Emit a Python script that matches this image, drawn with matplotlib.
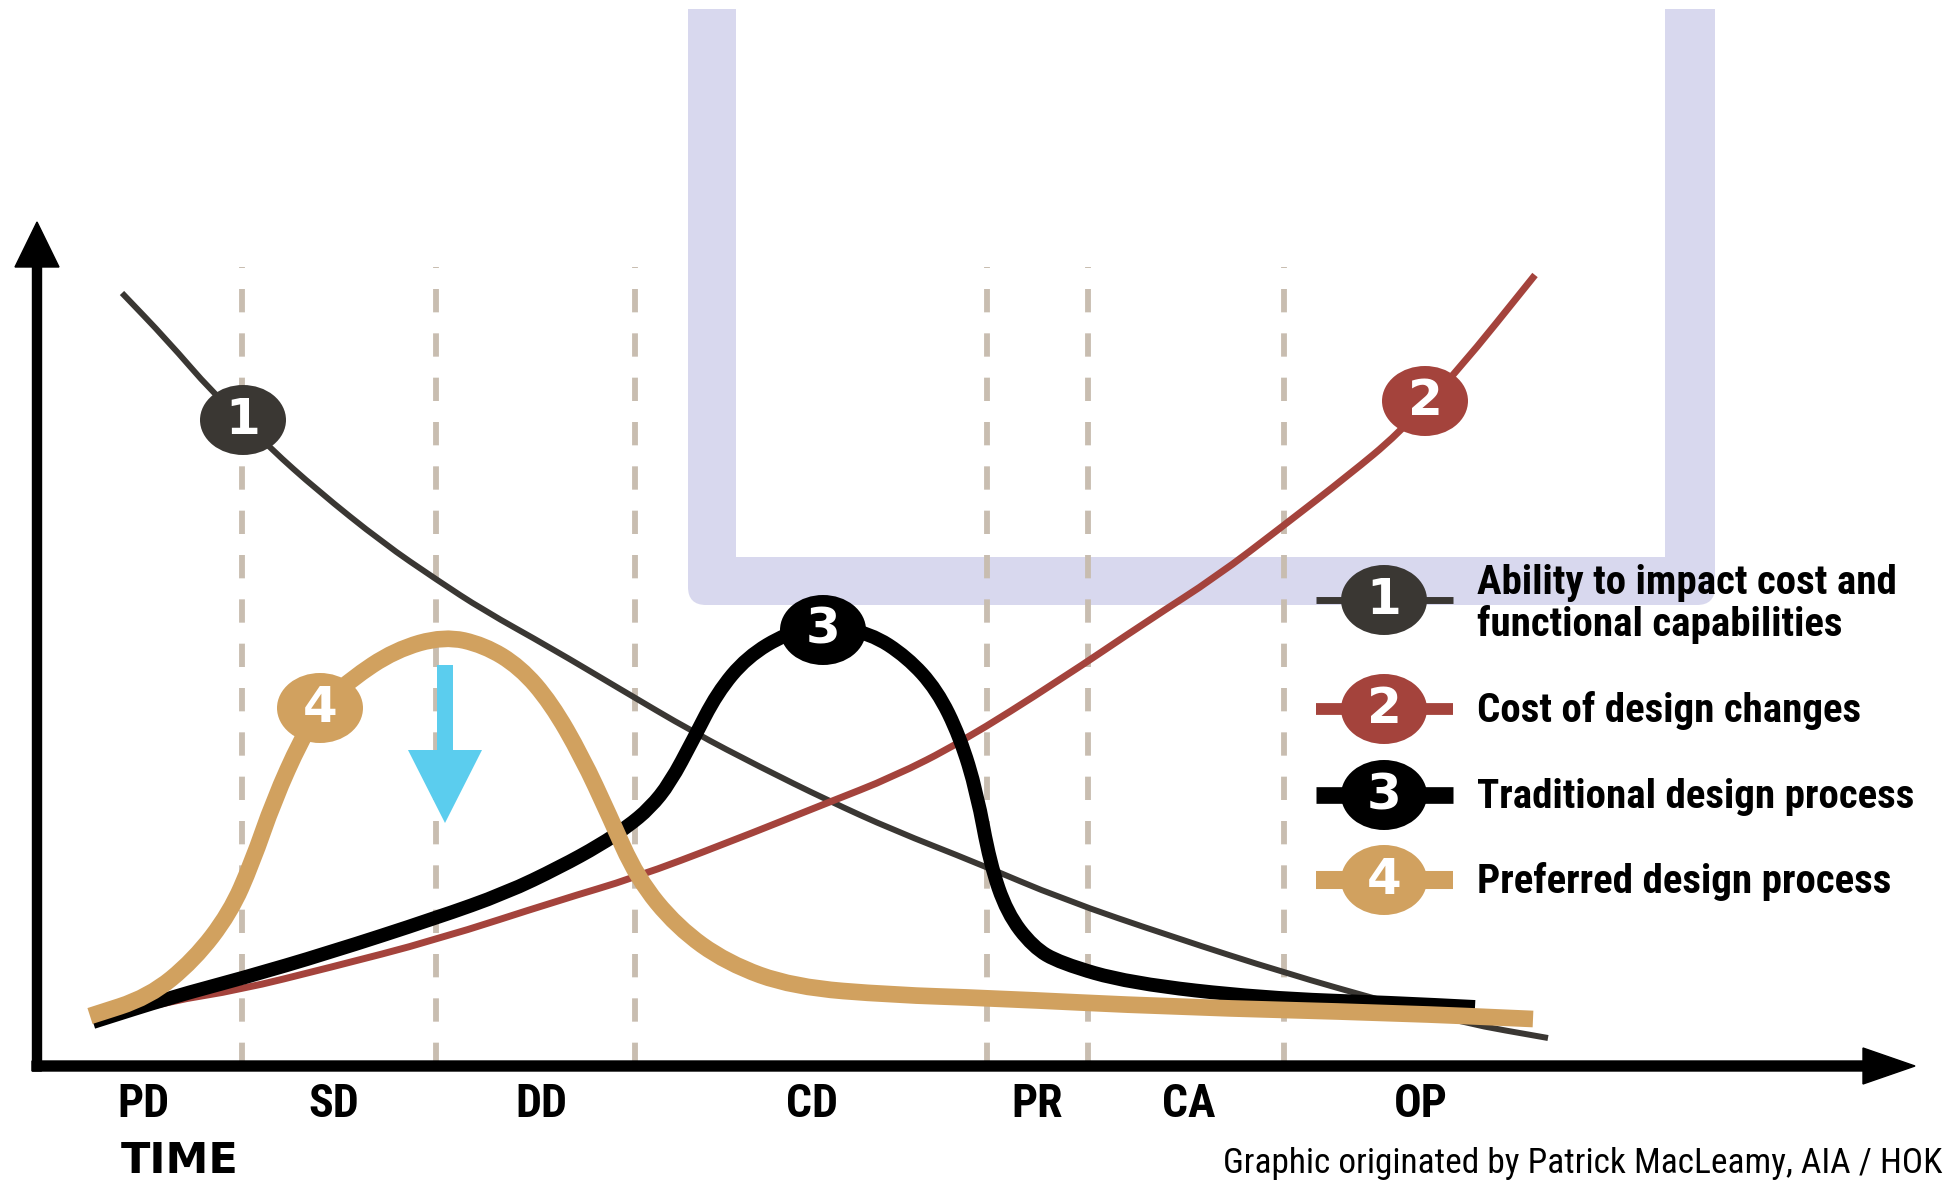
import matplotlib
matplotlib.use('Agg')
import matplotlib.pyplot as plt
from matplotlib import font_manager
from matplotlib.path import Path
from matplotlib.patches import Ellipse, Rectangle, FancyBboxPatch, PathPatch

# 坐标: x = 距纵轴的距离, y = 距时间轴的高度 (单位约为像素)
phases = ['PD', 'SD', 'DD', 'CD', 'PR', 'CA', 'OP']
phase_x = [106, 297, 504, 775, 1000, 1152, 1384]
phase_bounds = [205, 399, 598, 950, 1051, 1247]

# 1 Ability to impact cost and functional capabilities
impact_x = [85, 130, 176, 206, 233, 280, 346, 400, 446, 514, 583, 656, 723, 790, 856, 940, 1025, 1136, 1248, 1350, 1426, 1511]
impact_y = [773, 726, 673, 646, 618, 576, 523, 486, 456, 418, 377, 334, 299, 266, 236, 203, 167, 129, 93, 64, 43, 28]

# 2 Cost of design changes
cost_x = [56, 133, 202, 291, 399, 523, 597, 690, 790, 856, 923, 1023, 1112, 1179, 1246, 1313, 1360, 1420, 1498]
cost_y = [45, 65, 76, 98, 126, 166, 188, 223, 263, 289, 323, 386, 446, 489, 540, 592, 631, 694, 791]

# 3 Traditional design process
trad_x = [56, 135, 206, 291, 399, 469, 523, 563, 590, 613, 633, 656, 680, 710, 750, 786, 833, 870, 900, 923, 940, 953, 970, 996, 1023, 1092, 1225, 1359, 1438]
trad_y = [44, 69, 88, 113, 148, 173, 199, 221, 239, 258, 283, 326, 373, 409, 433, 441, 433, 409, 376, 329, 273, 203, 153, 119, 103, 83, 68, 63, 59]

# 4 Preferred design process
pref_x = [53, 112, 157, 193, 215, 237, 264, 283, 313, 358, 407, 447, 483, 514, 545, 572, 600, 640, 690, 756, 856, 950, 1136, 1359, 1496]
pref_y = [50, 69, 106, 153, 203, 266, 326, 358, 386, 416, 430, 421, 399, 363, 309, 251, 188, 139, 103, 79, 71, 68, 59, 53, 47]

# 曲线上的编号位置
badge_nums = ['1', '2', '3', '4']
badge_x = [206, 1388, 786, 283]
badge_y = [646, 665, 436, 358]

legend_labels = ['Ability to impact cost and\nfunctional capabilities',
                 'Cost of design changes',
                 'Traditional design process',
                 'Preferred design process']

colors = ['#3a3733', '#a4433c', '#000000', '#d1a15f']
widths = [4.3, 5.0, 10.0, 12.0]
legend_widths = [5.0, 8.5, 12.0, 13.0]


def pick_font(cands):
    # 找一个有静态粗体的窄体字体
    for name in cands:
        for f in font_manager.fontManager.ttflist:
            if f.name == name and f.weight == 700 and f.style == 'normal' and '[' not in f.fname:
                return name
    return 'DejaVu Sans'


narrow = [pick_font(['Roboto Condensed', 'PT Sans Narrow', 'IBM Plex Sans Condensed',
                     'Asap Condensed', 'Liberation Sans Narrow']), 'DejaVu Sans']


def smooth(xs, ys):
    # 以读取点为控制点的二次贝塞尔曲线
    pts = list(zip(xs, ys))
    verts = [pts[0], ((pts[0][0] + pts[1][0]) / 2, (pts[0][1] + pts[1][1]) / 2)]
    codes = [Path.MOVETO, Path.LINETO]
    for i in range(1, len(pts) - 1):
        mid = ((pts[i][0] + pts[i + 1][0]) / 2, (pts[i][1] + pts[i + 1][1]) / 2)
        verts += [pts[i], mid]
        codes += [Path.CURVE3, Path.CURVE3]
    verts.append(pts[-1])
    codes.append(Path.LINETO)
    return Path(verts, codes)


fig = plt.figure(figsize=(19.44, 11.83), dpi=100)
ax = fig.add_axes([0, 0, 1, 1])
ax.set_xlim(-37, 1907)
ax.set_ylim(-117, 1066)
ax.axis('off')

# 紫色U形框
ax.add_patch(FancyBboxPatch((651, 461), 1027, 700, boxstyle='round,pad=0,rounding_size=18',
                            fc='#d8d8ee', ec='none', zorder=0))
ax.add_patch(Rectangle((699, 509), 929, 700, fc='white', ec='none', zorder=0.1))
ax.add_patch(Rectangle((600, 1057), 1200, 50, fc='white', ec='none', zorder=0.1))

# 阶段分隔虚线
for bx in phase_bounds:
    ax.plot([bx, bx], [0, 799], color='#c8bdb0', lw=4.2, dashes=(4, 3.6), zorder=1)

# 坐标轴箭头
ax.arrow(0, -5, 0, 849, width=9, head_width=44, head_length=45,
         length_includes_head=True, color='black', zorder=6)
ax.arrow(-5, 0, 1883, 0, width=10, head_width=36, head_length=52,
         length_includes_head=True, color='black', zorder=6)

# 曲线
curves = [(impact_x, impact_y), (cost_x, cost_y), (trad_x, trad_y), (pref_x, pref_y)]
for i, (cx, cy) in enumerate(curves):
    pp = PathPatch(smooth(cx, cy), fill=False, ec=colors[i], lw=widths[i], zorder=2 + i)
    pp.set_capstyle('butt')
    pp.set_joinstyle('round')
    ax.add_patch(pp)

# 蓝色向下箭头
ax.arrow(408, 401, 0, -158, width=16, head_width=74, head_length=73,
         length_includes_head=True, color='#5bcdee', ec='none', zorder=7)


# 编号徽章
def badge(x, y, num, color, z):
    ax.add_patch(Ellipse((x, y), 86, 70, fc=color, ec='none', zorder=z))
    ax.text(x, y, num, color='white', fontsize=36, fontweight='heavy',
            family='DejaVu Sans', ha='center', va='center', zorder=z + 0.1)


for i in range(4):
    badge(badge_x[i], badge_y[i], badge_nums[i], colors[i], 8)

# 图例
legend_y = [466, 357, 271, 186]
for i in range(4):
    ax.plot([1279, 1416], [legend_y[i], legend_y[i]], color=colors[i],
            lw=legend_widths[i], solid_capstyle='butt', zorder=7)
    badge(1347, legend_y[i], badge_nums[i], colors[i], 8)

ax.text(1440, 472, 'Ability to impact cost and', family=narrow, fontweight='bold',
        fontsize=29.5, va='baseline', zorder=9)
ax.text(1440, 430, 'functional capabilities', family=narrow, fontweight='bold',
        fontsize=29.5, va='baseline', zorder=9)
for i, by in zip([1, 2, 3], [344, 258, 173]):
    ax.text(1440, by, legend_labels[i], family=narrow, fontweight='bold',
            fontsize=29.5, va='baseline', zorder=9)

# 阶段标签
for name, px in zip(phases, phase_x):
    ax.text(px, -51, name, family=narrow, fontweight='bold', fontsize=33,
            ha='center', va='baseline')

ax.text(84, -116, 'TIME', family='DejaVu Sans', fontweight='bold', fontsize=31,
        va='bottom')
ax.text(1905, -107, 'Graphic originated by Patrick MacLeamy, AIA / HOK', family=narrow,
        fontsize=25.5, ha='right', va='baseline')

fig.savefig('out.png', dpi=100)
